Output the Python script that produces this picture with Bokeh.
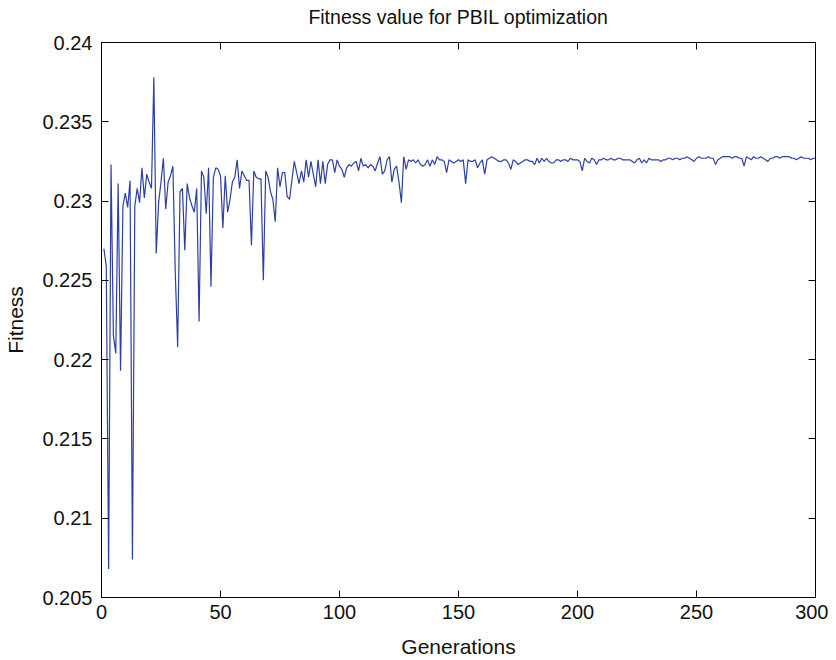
from bokeh.plotting import figure
from bokeh.models import LinearAxis, FixedTicker, CustomJSTickFormatter, Range1d
from bokeh.embed import file_html
from bokeh.resources import INLINE

# ---- data ----
fitness = [
    0.2270, 0.2259, 0.2068, 0.2323, 0.2215, 0.2204, 0.2311, 0.2193, 0.2297, 0.2305,
    0.2296, 0.2313, 0.2074, 0.2297, 0.2308, 0.2299, 0.2321, 0.2302, 0.2317, 0.2312,
    0.2308, 0.2378, 0.2267, 0.2299, 0.2312, 0.2327, 0.2295, 0.2312, 0.2316, 0.2322,
    0.2255, 0.2208, 0.2306, 0.2308, 0.2269, 0.2311, 0.2302, 0.2297, 0.2293, 0.2308,
    0.2224, 0.2319, 0.2315, 0.2292, 0.2321, 0.2246, 0.2315, 0.2321, 0.2320, 0.2316,
    0.2283, 0.2316, 0.2293, 0.2301, 0.2312, 0.2315, 0.2326, 0.2308, 0.2319, 0.2316,
    0.2313, 0.2313, 0.2272, 0.2319, 0.2315, 0.2314, 0.2314, 0.2250, 0.2319, 0.2315,
    0.2306, 0.2301, 0.2287, 0.2321, 0.2309, 0.2318, 0.2318, 0.2303, 0.2301, 0.2313,
    0.2325, 0.2318, 0.2311, 0.2319, 0.2312, 0.2326, 0.2315, 0.2325, 0.2317, 0.2309,
    0.2326, 0.2311, 0.2325, 0.2311, 0.2323, 0.2326, 0.2326, 0.2318, 0.2326, 0.2322,
    0.2320, 0.2315, 0.2321, 0.2323, 0.2322, 0.2324, 0.2325, 0.2319, 0.2327, 0.2322,
    0.2323, 0.2321, 0.2323, 0.2322, 0.2319, 0.2324, 0.2328, 0.2317, 0.2319, 0.2326,
    0.2328, 0.2312, 0.2320, 0.2322, 0.2312, 0.2299, 0.2328, 0.2320, 0.2326, 0.2325,
    0.2326, 0.2324, 0.2326, 0.2323, 0.2322, 0.2323, 0.2326, 0.2322, 0.2326, 0.2323,
    0.2328, 0.2326, 0.2326, 0.2325, 0.2318, 0.2326, 0.2325, 0.2324, 0.2325, 0.2326,
    0.2325, 0.2326, 0.2311, 0.2326, 0.2325, 0.2325, 0.2326, 0.2321, 0.2324, 0.2326,
    0.2317, 0.2326, 0.2327, 0.2328, 0.2327, 0.2326, 0.2325, 0.2325, 0.2326, 0.2326,
    0.2324, 0.2320, 0.2326, 0.2325, 0.2323, 0.2324, 0.2325, 0.2326, 0.2326, 0.2325,
    0.2325, 0.2323, 0.2327, 0.2324, 0.2327, 0.2325, 0.2327, 0.2325, 0.2324, 0.2324,
    0.2326, 0.2326, 0.2325, 0.2326, 0.2326, 0.2325, 0.2327, 0.2326, 0.2326, 0.2326,
    0.2325, 0.2319, 0.2327, 0.2325, 0.2324, 0.2327, 0.2326, 0.2323, 0.2326, 0.2326,
    0.2327, 0.2326, 0.2326, 0.2327, 0.2326, 0.2326, 0.2327, 0.2327, 0.2326, 0.2326,
    0.2326, 0.2326, 0.2325, 0.2324, 0.2326, 0.2327, 0.2324, 0.2326, 0.2324, 0.2327,
    0.2326, 0.2326, 0.2326, 0.2326, 0.2325, 0.2326, 0.2326, 0.2327, 0.2327, 0.2326,
    0.2327, 0.2327, 0.2326, 0.2327, 0.2327, 0.2328, 0.2327, 0.2326, 0.2325, 0.2327,
    0.2328, 0.2327, 0.2327, 0.2327, 0.2328, 0.2327, 0.2327, 0.2323, 0.2326, 0.2327,
    0.2328, 0.2328, 0.2328, 0.2328, 0.2327, 0.2328, 0.2328, 0.2327, 0.2327, 0.2322,
    0.2328, 0.2327, 0.2326, 0.2328, 0.2327, 0.2327, 0.2328, 0.2327, 0.2326, 0.2325,
    0.2327, 0.2327, 0.2328, 0.2328, 0.2327, 0.2328, 0.2328, 0.2328, 0.2328, 0.2327,
    0.2327, 0.2326, 0.2327, 0.2328, 0.2327, 0.2327, 0.2327, 0.2326, 0.2327, 0.2327,
]
generations = list(range(1, len(fitness) + 1))

x_ticks = [0, 50, 100, 150, 200, 250, 300]
y_ticks = [0.205, 0.21, 0.215, 0.22, 0.225, 0.23, 0.235, 0.24]

title_text = "Fitness value for PBIL optimization"
x_label = "Generations"
y_label = "Fitness"

FONT = "Liberation Sans"

p = figure(width=828, height=660, output_backend="svg", toolbar_location=None,
           x_range=Range1d(0, 300), y_range=Range1d(0.205, 0.24),
           min_border_left=101, min_border_right=13, min_border_top=42,
           min_border_bottom=60)

p.line(generations, fitness, line_color="#2e3fa3", line_width=1.2)

p.grid.visible = False
p.outline_line_color = "black"
p.outline_line_alpha = 1.0
p.outline_line_width = 1

fmt = CustomJSTickFormatter(code="""
let s = tick.toFixed(3);
if (s.indexOf('.') >= 0) { s = s.replace(/0+$/, '').replace(/\\.$/, ''); }
return s;
""")
blank = CustomJSTickFormatter(code="return '';")

def style_axis(ax, labels=True):
    ax.axis_line_color = "black"
    ax.major_tick_line_color = "black"
    ax.major_tick_in = 7
    ax.major_tick_out = 0
    ax.minor_tick_line_color = None
    ax.axis_label_text_font = FONT
    ax.axis_label_text_font_size = "21px"
    ax.axis_label_text_font_style = "normal"
    ax.axis_label_text_color = "#111111"
    if labels:
        ax.major_label_text_font = FONT
        ax.major_label_text_font_size = "20px"
        ax.major_label_text_color = "#111111"
    else:
        ax.formatter = blank
        ax.major_label_standoff = 0

xa = p.xaxis[0]
xa.ticker = FixedTicker(ticks=x_ticks)
xa.axis_label = x_label
style_axis(xa)
xa.major_label_standoff = 7
xa.axis_label_standoff = 13

ya = p.yaxis[0]
ya.ticker = FixedTicker(ticks=y_ticks)
ya.formatter = fmt
ya.axis_label = y_label
style_axis(ya)
ya.major_label_standoff = 9
ya.axis_label_standoff = 12

# top axis carries the ticks of the box and the chart title
top = LinearAxis(ticker=FixedTicker(ticks=x_ticks))
style_axis(top, labels=False)
top.axis_label = title_text
top.axis_label_text_font_size = "19.5px"
top.axis_label_standoff = 15
p.add_layout(top, "above")

right = LinearAxis(ticker=FixedTicker(ticks=y_ticks))
style_axis(right, labels=False)
p.add_layout(right, "right")

open("out.html", "w").write(file_html(p, INLINE))
